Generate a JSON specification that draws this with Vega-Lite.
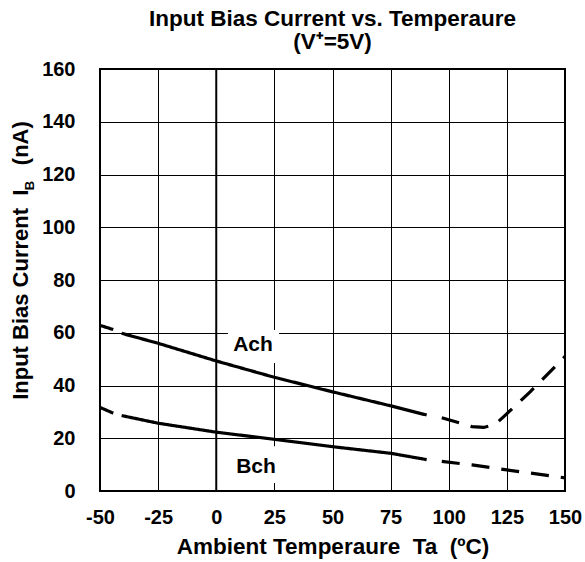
{
  "$schema": "https://vega.github.io/schema/vega-lite/v6.json",
  "width": 465,
  "height": 422,
  "autosize": {"type": "none"},
  "padding": {"left": 100, "top": 69, "right": 20, "bottom": 71},
  "background": "white",
  "title": {
    "text": ["Input Bias Current vs. Temperaure", "(V⁺=5V)"],
    "font": "Liberation Sans",
    "fontSize": 22.5,
    "fontWeight": "bold",
    "color": "black",
    "anchor": "middle",
    "frame": "group",
    "lineHeight": 23,
    "offset": 6
  },
  "config": {
    "view": {"stroke": "black", "strokeWidth": 2},
    "axis": {
      "grid": true,
      "gridColor": "black",
      "gridOpacity": 1,
      "gridWidth": 1,
      "ticks": false,
      "domain": false,
      "labelFlush": false,
      "labelOverlap": false,
      "labelFont": "Liberation Sans",
      "labelFontSize": 20,
      "labelFontWeight": "bold",
      "labelColor": "black",
      "titleFont": "Liberation Sans",
      "titleFontSize": 22.5,
      "titleFontWeight": "bold",
      "titleColor": "black"
    }
  },
  "datasets": {
    "curves": [
      {"ch": "Ach", "seg": "A1", "style": "solid", "t": -50, "ib": 62.8},
      {"ch": "Ach", "seg": "A1", "style": "solid", "t": -44.3, "ib": 61.2},
      {"ch": "Ach", "seg": "A2", "style": "solid", "t": -40.7, "ib": 59.8},
      {"ch": "Ach", "seg": "A2", "style": "solid", "t": -25, "ib": 56},
      {"ch": "Ach", "seg": "A2", "style": "solid", "t": 0, "ib": 49.3},
      {"ch": "Ach", "seg": "A2", "style": "solid", "t": 25, "ib": 43.1},
      {"ch": "Ach", "seg": "A2", "style": "solid", "t": 50, "ib": 37.6},
      {"ch": "Ach", "seg": "A2", "style": "solid", "t": 75, "ib": 32.3},
      {"ch": "Ach", "seg": "A2", "style": "solid", "t": 90.5, "ib": 28.8},
      {"ch": "Ach", "seg": "A3", "style": "dashed", "t": 97, "ib": 27.8},
      {"ch": "Ach", "seg": "A3", "style": "dashed", "t": 105, "ib": 25.7},
      {"ch": "Ach", "seg": "A3", "style": "dashed", "t": 110, "ib": 24.4},
      {"ch": "Ach", "seg": "A3", "style": "dashed", "t": 115, "ib": 24.1},
      {"ch": "Ach", "seg": "A3", "style": "dashed", "t": 120, "ib": 25.3},
      {"ch": "Ach", "seg": "A3", "style": "dashed", "t": 124, "ib": 28.5},
      {"ch": "Ach", "seg": "A3", "style": "dashed", "t": 130, "ib": 33.4},
      {"ch": "Ach", "seg": "A3", "style": "dashed", "t": 135, "ib": 37.6},
      {"ch": "Ach", "seg": "A3", "style": "dashed", "t": 140, "ib": 42},
      {"ch": "Ach", "seg": "A3", "style": "dashed", "t": 145, "ib": 46.5},
      {"ch": "Ach", "seg": "A3", "style": "dashed", "t": 150, "ib": 51},
      {"ch": "Bch", "seg": "B1", "style": "solid", "t": -50, "ib": 31.7},
      {"ch": "Bch", "seg": "B1", "style": "solid", "t": -44.3, "ib": 29.5},
      {"ch": "Bch", "seg": "B2", "style": "solid", "t": -40.7, "ib": 28.6},
      {"ch": "Bch", "seg": "B2", "style": "solid", "t": -25, "ib": 25.7},
      {"ch": "Bch", "seg": "B2", "style": "solid", "t": 0, "ib": 22.3},
      {"ch": "Bch", "seg": "B2", "style": "solid", "t": 25, "ib": 19.6},
      {"ch": "Bch", "seg": "B2", "style": "solid", "t": 50, "ib": 16.8},
      {"ch": "Bch", "seg": "B2", "style": "solid", "t": 75, "ib": 14.3},
      {"ch": "Bch", "seg": "B2", "style": "solid", "t": 90.5, "ib": 11.9},
      {"ch": "Bch", "seg": "B3", "style": "dashed", "t": 97, "ib": 11.2},
      {"ch": "Bch", "seg": "B3", "style": "dashed", "t": 110, "ib": 9.9},
      {"ch": "Bch", "seg": "B3", "style": "dashed", "t": 125, "ib": 8},
      {"ch": "Bch", "seg": "B3", "style": "dashed", "t": 140, "ib": 6.2},
      {"ch": "Bch", "seg": "B3", "style": "dashed", "t": 150, "ib": 5}
    ],
    "boxes": [
      {"t": 5, "t2": 27, "ib": 48.5, "ib2": 61},
      {"t": 6, "t2": 28, "ib": 3, "ib2": 17}
    ],
    "labels": [
      {"label": "Ach", "t": 15.8, "ib": 55.4},
      {"label": "Bch", "t": 17.1, "ib": 9.2}
    ],
    "sub": [
      {"label": "B", "t": -80.3, "ib": 115.8}
    ]
  },
  "layer": [
    {
      "data": {"name": "boxes"},
      "mark": {"type": "rect", "fill": "white", "stroke": null},
      "encoding": {
        "x": {
          "field": "t", "type": "quantitative",
          "scale": {"domain": [-50, 150], "nice": false, "zero": false},
          "axis": {
            "values": [-50, -25, 0, 25, 50, 75, 100, 125, 150],
            "labelExpr": "'' + datum.value",
            "labelPadding": 16,
            "title": "Ambient Temperaure\u00a0 Ta\u00a0 (ºC)",
            "titlePadding": 8
          }
        },
        "x2": {"field": "t2"},
        "y": {
          "field": "ib", "type": "quantitative",
          "scale": {"domain": [0, 160], "nice": false},
          "axis": {
            "values": [0, 20, 40, 60, 80, 100, 120, 140, 160],
            "labelPadding": 25,
            "title": "Input Bias Current\u00a0\u00a0I\u00a0\u00a0\u00a0\u00a0(nA)",
            "titleFontSize": 22,
            "titlePadding": 9,
            "titleY": 191
          }
        },
        "y2": {"field": "ib2"}
      }
    },
    {
      "data": {"values": [{}]},
      "mark": {"type": "rule", "color": "black", "strokeWidth": 2},
      "encoding": {"x": {"datum": 0}}
    },
    {
      "data": {"name": "curves"},
      "mark": {"type": "line", "color": "black", "strokeWidth": 3.2, "strokeCap": "butt"},
      "encoding": {
        "x": {"field": "t", "type": "quantitative"},
        "y": {"field": "ib", "type": "quantitative"},
        "detail": {"field": "seg"},
        "strokeDash": {
          "field": "style", "type": "nominal",
          "scale": {"domain": ["solid", "dashed"], "range": [[1, 0], [18, 12]]},
          "legend": null
        }
      }
    },
    {
      "data": {"name": "labels"},
      "mark": {"type": "text", "font": "Liberation Sans", "fontSize": 21, "fontWeight": "bold", "color": "black"},
      "encoding": {
        "x": {"field": "t", "type": "quantitative"},
        "y": {"field": "ib", "type": "quantitative"},
        "text": {"field": "label"}
      }
    },
    {
      "data": {"name": "sub"},
      "mark": {"type": "text", "font": "Liberation Sans", "fontSize": 13, "fontWeight": "bold", "color": "black", "angle": 270, "clip": false},
      "encoding": {
        "x": {"field": "t", "type": "quantitative"},
        "y": {"field": "ib", "type": "quantitative"},
        "text": {"field": "label"}
      }
    }
  ]
}
